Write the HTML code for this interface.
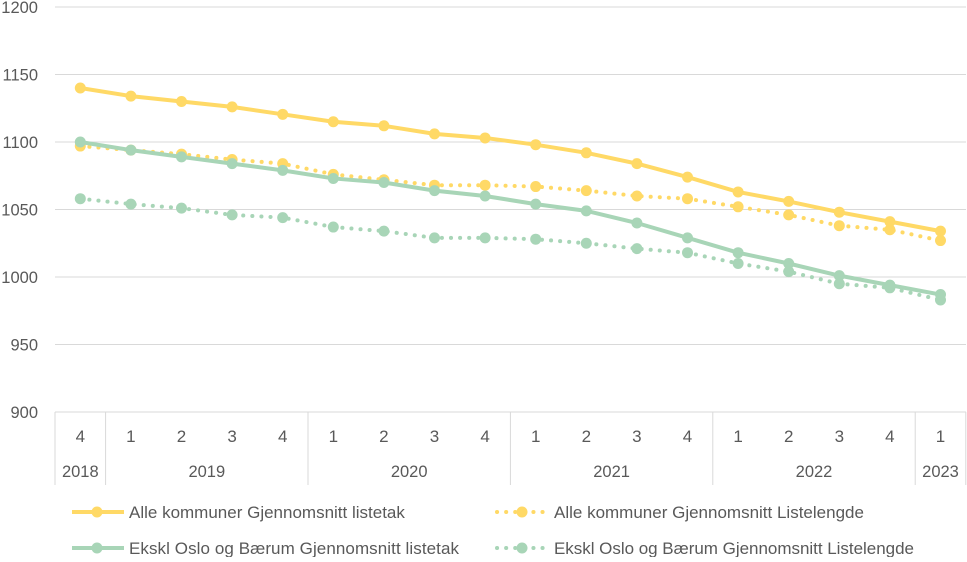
<!DOCTYPE html>
<html><head><meta charset="utf-8"><style>
body{margin:0;background:#fff;}
svg text{font-family:"Liberation Sans",sans-serif;fill:#595959;}
</style></head><body>
<svg id="c" width="967" height="557" xmlns="http://www.w3.org/2000/svg"></svg>
<script>
const s=document.getElementById('c');let h='';
const Y=v=>412-(v-900)*1.35, X=i=>55+50.6*(i+0.5);
for(let v=900;v<=1200;v+=50){h+=`<line x1="55" x2="966" y1="${Y(v)}" y2="${Y(v)}" stroke="#d9d9d9"/>`;
h+=`<text x="38" y="${Y(v)+6}" font-size="16.5" text-anchor="end">${v}</text>`;}
const q=[4,1,2,3,4,1,2,3,4,1,2,3,4,1,2,3,4,1];
q.forEach((n,i)=>h+=`<text x="${X(i)}" y="442" font-size="17" text-anchor="middle">${n}</text>`);
[0,1,5,9,13,17,18].forEach(i=>{const x=55+50.6*i;h+=`<line x1="${x}" x2="${x}" y1="412" y2="485" stroke="#d9d9d9"/>`;});
[[2018,0,1],[2019,1,5],[2020,5,9],[2021,9,13],[2022,13,17],[2023,17,18]].forEach(([t,a,b])=>h+=`<text x="${55+50.6*(a+b)/2}" y="477" font-size="16.5" text-anchor="middle">${t}</text>`);
const Yc='#FFD966',G='#A8D5B7';
const DOT='stroke-dasharray="0.1 9" stroke-linecap="round"';
const ser=[[[1140,1134,1130,1126,1120.5,1115,1112,1106,1103,1098,1092,1084,1074,1063,1056,1048,1041,1034],Yc,0],
[[1097,1094,1091,1087,1084,1076,1072,1068,1068,1067,1064,1060,1058,1052,1046,1038,1035,1027],Yc,1],
[[1058,1054,1051,1046,1044,1037,1034,1029,1029,1028,1025,1021,1018,1010,1004,995,992,983],G,1],
[[1100,1094,1089,1084,1079,1073,1070,1064,1060,1054,1049,1040,1029,1018,1010,1001,994,987],G,0]];
ser.forEach(([d,c,dot])=>{h+=`<polyline fill="none" stroke="${c}" stroke-width="4" ${dot?DOT:''} points="${d.map((v,i)=>X(i)+','+Y(v)).join(' ')}"/>`;
d.forEach((v,i)=>h+=`<circle cx="${X(i)}" cy="${Y(v)}" r="5.5" fill="${c}"/>`);});
const leg=[[70,512,Yc,0,'Alle kommuner Gjennomsnitt listetak'],[495,512,Yc,1,'Alle kommuner Gjennomsnitt Listelengde'],[70,548,G,0,'Ekskl Oslo og Bærum Gjennomsnitt listetak'],[495,548,G,1,'Ekskl Oslo og Bærum Gjennomsnitt Listelengde']];
leg.forEach(([x,y,c,dot,t])=>{h+=`<line x1="${x+2}" x2="${x+54}" y1="${y}" y2="${y}" stroke="${c}" stroke-width="4" ${dot?DOT:''}/><circle cx="${x+27}" cy="${y}" r="5.5" fill="${c}"/><text x="${x+59}" y="${y+6}" font-size="17" textLength="${t.length>40?(t.length>42?360:330):0}">${t}</text>`;});
s.innerHTML=h.replace(/ textLength="0"/g,'');
</script>
</body></html>
